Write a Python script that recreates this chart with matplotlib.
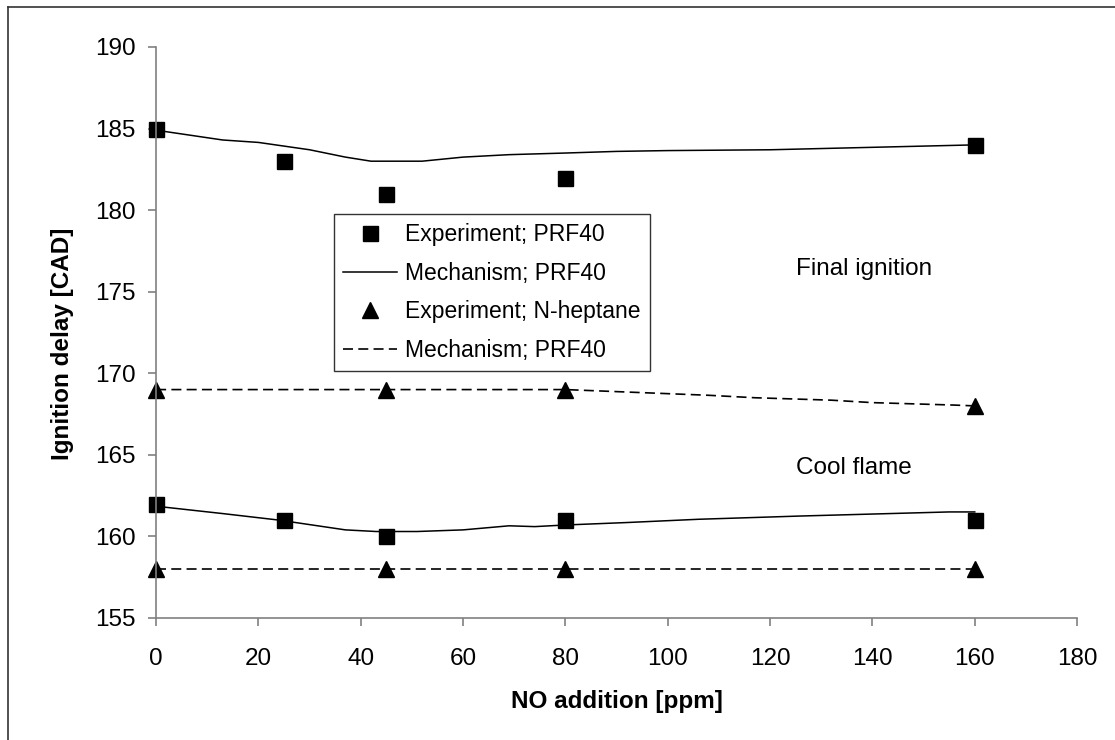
import matplotlib
matplotlib.use("Agg")
import matplotlib.pyplot as plt
from matplotlib.lines import Line2D

plt.rcParams['font.family'] = ['Liberation Sans', 'DejaVu Sans']
plt.rcParams['font.size'] = 17.5
plt.rcParams['lines.scale_dashes'] = False

# experiment points
no_exp_prf = [0, 25, 45, 80, 160]
final_exp_prf = [185, 183, 181, 182, 184]
cool_exp_prf = [162, 161, 160, 161, 161]

no_exp_hep = [0, 45, 80, 160]
final_exp_hep = [169, 169, 169, 168]
cool_exp_hep = [158, 158, 158, 158]

# mechanism curves
no_mech_final = [0, 13, 20, 30, 37, 42, 52, 60, 69, 80, 90, 100, 120, 140, 160]
final_mech = [184.9, 184.3, 184.15, 183.7, 183.25, 183.0, 183.0, 183.25, 183.4,
              183.5, 183.6, 183.65, 183.7, 183.85, 184.0]

no_mech_cool = [0, 13, 24, 37, 43, 51, 60, 69, 74, 80, 92, 106, 126, 155, 160]
cool_mech = [161.85, 161.4, 161.0, 160.4, 160.3, 160.3, 160.4, 160.65, 160.6,
             160.7, 160.85, 161.05, 161.25, 161.5, 161.5]

no_mech_hep_final = [0, 80, 92, 108, 117, 122, 132, 140, 156, 160]
hep_final_mech = [169, 169, 168.85, 168.65, 168.5, 168.45, 168.35, 168.2, 168.05, 168.0]

no_mech_hep_cool = [0, 45, 80, 160]
hep_cool_mech = [158, 158, 158, 158]

xticks = list(range(0, 181, 20))
yticks = list(range(155, 191, 5))

dash = (7.2, 3.8)
spine_col = '#808080'

fig = plt.figure(figsize=(11.15, 7.4), dpi=100)
ax = fig.add_axes([0.14, 0.1649, 0.826, 0.7716])

ax.plot(no_mech_final, final_mech, color='black', lw=1.1)
ax.plot(no_mech_cool, cool_mech, color='black', lw=1.1)
ax.plot(no_mech_hep_final, hep_final_mech, color='black', lw=1.2, dashes=dash)
ax.plot(no_mech_hep_cool, hep_cool_mech, color='black', lw=1.2, dashes=dash)

ax.plot(no_exp_prf, final_exp_prf, 's', color='black', ms=10.8, clip_on=False)
ax.plot(no_exp_prf, cool_exp_prf, 's', color='black', ms=10.8, clip_on=False)
ax.plot(no_exp_hep, final_exp_hep, '^', color='black', ms=12, clip_on=False)
ax.plot(no_exp_hep, cool_exp_hep, '^', color='black', ms=12, clip_on=False)

ax.text(125, 176.4, 'Final ignition', va='center', ha='left')
ax.text(125, 164.2, 'Cool flame', va='center', ha='left')

ax.set_xlim(0, 180)
ax.set_ylim(155, 190)
ax.set_xticks(xticks)
ax.set_yticks(yticks)

for s in ['top', 'right']:
    ax.spines[s].set_visible(False)
for s in ['left', 'bottom']:
    ax.spines[s].set_color(spine_col)
    ax.spines[s].set_linewidth(1.2)
ax.tick_params(axis='both', direction='out', length=5.5, width=1.2, color=spine_col)
ax.tick_params(axis='x', pad=16)
ax.tick_params(axis='y', pad=9)

ax.set_xlabel('NO addition [ppm]', fontweight='bold')
ax.set_ylabel('Ignition delay [CAD]', fontweight='bold')
ax.xaxis.set_label_coords(0.5, -0.147)
ax.xaxis.label.set_va('center')
ax.yaxis.set_label_coords(-0.102, 0.48)
ax.yaxis.label.set_va('center')

handles = [
    Line2D([], [], ls='none', marker='s', color='black', ms=10.8),
    Line2D([], [], color='black', lw=1.1),
    Line2D([], [], ls='none', marker='^', color='black', ms=12),
    Line2D([], [], color='black', lw=1.2, dashes=dash),
]
labels = ['Experiment; PRF40', 'Mechanism; PRF40',
          'Experiment; N-heptane', 'Mechanism; PRF40']
leg = fig.legend(handles, labels, loc='upper left',
                 bbox_to_anchor=(334 / 1115, 1 - 214 / 740),
                 borderaxespad=0, fancybox=False, framealpha=1,
                 fontsize=16.5, handlelength=2.36, handletextpad=0.35,
                 labelspacing=0.68, borderpad=0.4)
leg.get_frame().set_edgecolor('#333333')
leg.get_frame().set_linewidth(1.0)

# outer frame (top and left edges only)
fig.add_artist(Line2D([8 / 1115, 8 / 1115], [0, 1 - 7 / 740],
                      transform=fig.transFigure, color='#333333', lw=1.2))
fig.add_artist(Line2D([8 / 1115, 1], [1 - 7 / 740, 1 - 7 / 740],
                      transform=fig.transFigure, color='#333333', lw=1.2))

fig.savefig('out.png', dpi=100)
